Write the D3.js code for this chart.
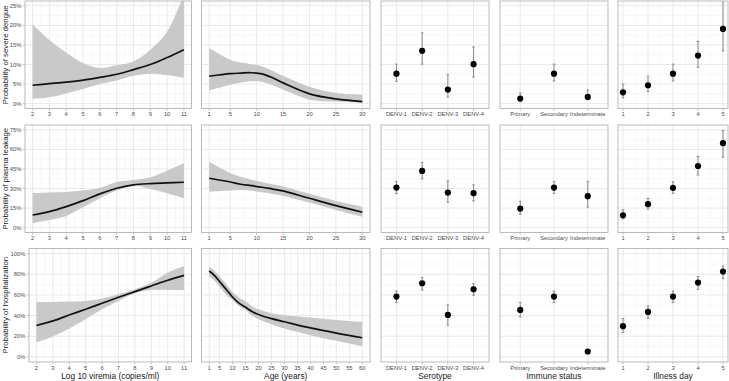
<!DOCTYPE html>
<html>
<head>
<meta charset="utf-8">
<script src="https://cdn.jsdelivr.net/npm/d3@7"></script>
<style>
  html, body { margin: 0; padding: 0; background: #fff; }
  svg { display: block; font-family: "Liberation Sans", Arial, sans-serif; }
</style>
</head>
<body>
<div id="chart"></div>
<script>
//! ===== 0. Data ===========================
const viremiaX = [2, 3, 4, 5, 6, 7, 8, 9, 10, 11];
const ageX = [1, 5, 7, 9, 11, 13, 15, 20, 25, 30];
const ageX60 = [1, 3, 5, 8, 10, 12.5, 15, 17.5, 20, 25, 30, 40, 50, 60];

const serotypes = ["DENV-1", "DENV-2", "DENV-3", "DENV-4"];
const immuneStatus = ["Primary", "Secondary", "Indeterminate"];
const illnessDays = [1, 2, 3, 4, 5];

// severe dengue
const severeViremiaFit = [0.047, 0.051, 0.055, 0.060, 0.067, 0.075, 0.087, 0.100, 0.118, 0.138];
const severeViremiaLo  = [0.012, 0.016, 0.026, 0.0375, 0.050, 0.059, 0.071, 0.0765, 0.073, 0.0655];
const severeViremiaHi  = [0.203, 0.163, 0.131, 0.104, 0.091, 0.098, 0.108, 0.138, 0.184, 0.280];
const severeAgeFit = [0.070, 0.0765, 0.078, 0.079, 0.076, 0.066, 0.053, 0.025, 0.012, 0.005];
const severeAgeLo  = [0.034, 0.0485, 0.054, 0.058, 0.056, 0.047, 0.036, 0.010, 0.005, 0.0025];
const severeAgeHi  = [0.142, 0.112, 0.105, 0.101, 0.095, 0.084, 0.071, 0.043, 0.027, 0.023];
const severeSero   = [0.0765, 0.135, 0.036, 0.101];
const severeSeroLo = [0.057, 0.101, 0.017, 0.068];
const severeSeroHi = [0.101, 0.181, 0.074, 0.145];
const severeImm    = [0.013, 0.0765, 0.017];
const severeImmLo  = [0.006, 0.058, 0.010];
const severeImmHi  = [0.027, 0.101, 0.035];
const severeDay    = [0.029, 0.047, 0.0765, 0.123, 0.191];
const severeDayLo  = [0.015, 0.031, 0.058, 0.093, 0.135];
const severeDayHi  = [0.050, 0.070, 0.101, 0.159, 0.300];

// plasma leakage
const leakViremiaFit = [0.097, 0.123, 0.161, 0.207, 0.259, 0.302, 0.328, 0.338, 0.343, 0.348];
const leakViremiaLo  = [0.034, 0.059, 0.090, 0.156, 0.225, 0.284, 0.320, 0.297, 0.264, 0.226];
const leakViremiaHi  = [0.264, 0.269, 0.274, 0.284, 0.305, 0.351, 0.366, 0.387, 0.437, 0.494];
const leakAgeFit = [0.379, 0.350, 0.333, 0.322, 0.310, 0.296, 0.282, 0.225, 0.169, 0.118];
const leakAgeLo  = [0.276, 0.285, 0.289, 0.282, 0.272, 0.258, 0.243, 0.192, 0.136, 0.084];
const leakAgeHi  = [0.506, 0.420, 0.391, 0.368, 0.350, 0.332, 0.315, 0.259, 0.205, 0.161];
const leakSero   = [0.307, 0.435, 0.269, 0.264];
const leakSeroLo = [0.261, 0.374, 0.195, 0.205];
const leakSeroHi = [0.353, 0.499, 0.358, 0.328];
const leakImm    = [0.146, 0.307, 0.241];
const leakImmLo  = [0.103, 0.264, 0.157];
const leakImmHi  = [0.203, 0.353, 0.353];
const leakDay    = [0.095, 0.180, 0.305, 0.473, 0.648];
const leakDayLo  = [0.067, 0.141, 0.264, 0.404, 0.540];
const leakDayHi  = [0.136, 0.223, 0.351, 0.545, 0.744];

// hospitalization
const hospViremiaFit = [0.304, 0.348, 0.406, 0.461, 0.519, 0.577, 0.632, 0.687, 0.742, 0.790];
const hospViremiaLo  = [0.139, 0.197, 0.275, 0.365, 0.461, 0.542, 0.616, 0.648, 0.648, 0.648];
const hospViremiaHi  = [0.532, 0.532, 0.536, 0.542, 0.565, 0.606, 0.655, 0.719, 0.816, 0.880];
const hospAgeFit = [0.832, 0.790, 0.730, 0.640, 0.580, 0.520, 0.480, 0.440, 0.410, 0.370, 0.340, 0.280, 0.230, 0.185];
const hospAgeLo  = [0.778, 0.740, 0.680, 0.590, 0.550, 0.490, 0.455, 0.400, 0.365, 0.316, 0.275, 0.210, 0.155, 0.101];
const hospAgeHi  = [0.874, 0.835, 0.780, 0.690, 0.630, 0.575, 0.540, 0.490, 0.461, 0.423, 0.406, 0.381, 0.358, 0.339];
const hospSero   = [0.584, 0.713, 0.406, 0.655];
const hospSeroLo = [0.526, 0.648, 0.309, 0.597];
const hospSeroHi = [0.638, 0.768, 0.503, 0.710];
const hospImm    = [0.455, 0.584, 0.052];
const hospImmLo  = [0.387, 0.526, 0.050];
const hospImmHi  = [0.526, 0.638, 0.054];
const hospDay    = [0.297, 0.435, 0.584, 0.720, 0.826];
const hospDayLo  = [0.236, 0.374, 0.526, 0.655, 0.758];
const hospDayHi  = [0.371, 0.493, 0.638, 0.778, 0.880];

// axis ticks
const viremiaTicks = [2, 3, 4, 5, 6, 7, 8, 9, 10, 11];
const ageTicks30 = [1, 5, 10, 15, 20, 25, 30];
const ageTicks60 = [1, 5, 10, 15, 20, 25, 30, 35, 40, 45, 50, 55, 60];
const severeTicks = [0, 0.05, 0.10, 0.15, 0.20, 0.25];
const leakTicks = [0, 0.15, 0.30, 0.45, 0.60, 0.75];
const hospTicks = [0, 0.2, 0.4, 0.6, 0.8, 1.0];

const yTitles = ["Probability of severe dengue", "Probability of plasma leakage", "Probability of hospitalization"];
const xTitles = ["Log 10 viremia (copies/ml)", "Age (years)", "Serotype", "Immune status", "Illness day"];

//! ===== I. Layout =====
const W = 729, H = 381;
const rowTop = [1, 125, 248.5];
const rowBottom = [108.5, 232.5, 362];
const colLeft = [[25, 201.5, 381, 500, 618], [25, 201.5, 381, 500, 618], [29, 201.5, 381, 500, 618]];
const colRight = [191.5, 370, 489, 608, 728];

const gridMajor = "#e3e3e3", gridMinor = "#efefef", borderCol = "#b3b3b3", tickTxt = "#4d4d4d";
const tickSize = 5.8, titleSize = 8.4, yTitleSize = 7.8;
const pct = d3.format(".0%");
const smooth = d3.curveCatmullRom.alpha(0.5);

function expand(a, b){ const e = (b - a) * 0.05; return [a - e, b + e]; }
function mids(t){ const m = []; for (let i = 0; i < t.length - 1; i++) m.push((t[i] + t[i+1]) / 2); return m; }

const rows = [
  { yMax: 0.25, yTicks: severeTicks,
    curves: [ {x: viremiaX, fit: severeViremiaFit, lo: severeViremiaLo, hi: severeViremiaHi, ticks: viremiaTicks},
              {x: ageX, fit: severeAgeFit, lo: severeAgeLo, hi: severeAgeHi, ticks: ageTicks30} ],
    dots: [ {cats: serotypes, v: severeSero, lo: severeSeroLo, hi: severeSeroHi},
            {cats: immuneStatus, v: severeImm, lo: severeImmLo, hi: severeImmHi},
            {cats: illnessDays, v: severeDay, lo: severeDayLo, hi: severeDayHi, numeric: true} ] },
  { yMax: 0.75, yTicks: leakTicks,
    curves: [ {x: viremiaX, fit: leakViremiaFit, lo: leakViremiaLo, hi: leakViremiaHi, ticks: viremiaTicks},
              {x: ageX, fit: leakAgeFit, lo: leakAgeLo, hi: leakAgeHi, ticks: ageTicks30} ],
    dots: [ {cats: serotypes, v: leakSero, lo: leakSeroLo, hi: leakSeroHi},
            {cats: immuneStatus, v: leakImm, lo: leakImmLo, hi: leakImmHi},
            {cats: illnessDays, v: leakDay, lo: leakDayLo, hi: leakDayHi, numeric: true} ] },
  { yMax: 1.0, yTicks: hospTicks,
    curves: [ {x: viremiaX, fit: hospViremiaFit, lo: hospViremiaLo, hi: hospViremiaHi, ticks: viremiaTicks},
              {x: ageX60, fit: hospAgeFit, lo: hospAgeLo, hi: hospAgeHi, ticks: ageTicks60} ],
    dots: [ {cats: serotypes, v: hospSero, lo: hospSeroLo, hi: hospSeroHi},
            {cats: immuneStatus, v: hospImm, lo: hospImmLo, hi: hospImmHi},
            {cats: illnessDays, v: hospDay, lo: hospDayLo, hi: hospDayHi, numeric: true} ] }
];

const svg = d3.select("#chart").append("svg").attr("width", W).attr("height", H);
const defs = svg.append("defs");

//! ===== II. Panels =====
rows.forEach((row, r) => {
  const y = d3.scaleLinear().domain(expand(0, row.yMax)).range([rowBottom[r], rowTop[r]]);
  const yMinor = mids(row.yTicks);

  for (let c = 0; c < 5; c++){
    const x0 = colLeft[r][c], x1 = colRight[c];
    const g = svg.append("g");
    const clipId = `clip-${r}-${c}`;
    defs.append("clipPath").attr("id", clipId).append("rect")
      .attr("x", x0).attr("y", rowTop[r]).attr("width", x1 - x0).attr("height", rowBottom[r] - rowTop[r]);

    // x scale + ticks for this panel
    let x, xTicks, xMinor = [];
    if (c < 2){
      const cv = row.curves[c];
      x = d3.scaleLinear().domain(expand(cv.ticks[0], cv.ticks[cv.ticks.length - 1])).range([x0, x1]);
      xTicks = cv.ticks; xMinor = mids(cv.ticks);
    } else {
      const dt = row.dots[c - 2];
      if (dt.numeric){
        x = d3.scaleLinear().domain(expand(1, 5)).range([x0, x1]);
        xMinor = mids(dt.cats);
      } else {
        x = d3.scalePoint().domain(dt.cats).range([x0, x1]).padding(0.6);
      }
      xTicks = dt.cats;
    }

    // grid
    g.selectAll(".ymin").data(yMinor).enter().append("line")
      .attr("x1", x0).attr("x2", x1).attr("y1", d => y(d)).attr("y2", d => y(d))
      .attr("stroke", gridMinor).attr("stroke-width", 0.5);
    g.selectAll(".xmin").data(xMinor).enter().append("line")
      .attr("y1", rowTop[r]).attr("y2", rowBottom[r]).attr("x1", d => x(d)).attr("x2", d => x(d))
      .attr("stroke", gridMinor).attr("stroke-width", 0.5);
    g.selectAll(".ymaj").data(row.yTicks).enter().append("line")
      .attr("x1", x0).attr("x2", x1).attr("y1", d => y(d)).attr("y2", d => y(d))
      .attr("stroke", gridMajor).attr("stroke-width", 0.8);
    g.selectAll(".xmaj").data(xTicks).enter().append("line")
      .attr("y1", rowTop[r]).attr("y2", rowBottom[r]).attr("x1", d => x(d)).attr("x2", d => x(d))
      .attr("stroke", gridMajor).attr("stroke-width", 0.8);

    const marks = g.append("g").attr("clip-path", `url(#${clipId})`);

    if (c < 2){
      const cv = row.curves[c];
      const pts = cv.x.map((xv, i) => ({x: xv, fit: cv.fit[i], lo: cv.lo[i], hi: cv.hi[i]}));
      marks.append("path").datum(pts)
        .attr("fill", "#c9c9c9")
        .attr("d", d3.area().curve(smooth).x(d => x(d.x)).y0(d => y(d.lo)).y1(d => y(d.hi)));
      marks.append("path").datum(pts)
        .attr("fill", "none").attr("stroke", "#111").attr("stroke-width", 1.7)
        .attr("d", d3.line().curve(smooth).x(d => x(d.x)).y(d => y(d.fit)));
    } else {
      const dt = row.dots[c - 2];
      const pts = dt.cats.map((k, i) => ({k: k, v: dt.v[i], lo: dt.lo[i], hi: dt.hi[i]}));
      const cap = 1.3;
      marks.selectAll(".eb").data(pts).enter().append("line")
        .attr("x1", d => x(d.k)).attr("x2", d => x(d.k)).attr("y1", d => y(d.lo)).attr("y2", d => y(d.hi))
        .attr("stroke", "#8a8a8a").attr("stroke-width", 1);
      ["lo", "hi"].forEach(key => {
        marks.selectAll(".cap-" + key).data(pts).enter().append("line")
          .attr("x1", d => x(d.k) - cap).attr("x2", d => x(d.k) + cap)
          .attr("y1", d => y(d[key])).attr("y2", d => y(d[key]))
          .attr("stroke", "#8a8a8a").attr("stroke-width", 1);
      });
      marks.selectAll("circle").data(pts).enter().append("circle")
        .attr("cx", d => x(d.k)).attr("cy", d => y(d.v)).attr("r", 3.1).attr("fill", "#000");
    }

    // border
    g.append("rect").attr("x", x0).attr("y", rowTop[r]).attr("width", x1 - x0).attr("height", rowBottom[r] - rowTop[r])
      .attr("fill", "none").attr("stroke", borderCol).attr("stroke-width", 0.9);

    // x ticks + labels
    g.selectAll(".xt").data(xTicks).enter().append("line")
      .attr("x1", d => x(d)).attr("x2", d => x(d)).attr("y1", rowBottom[r]).attr("y2", rowBottom[r] + 2.5)
      .attr("stroke", borderCol).attr("stroke-width", 0.7);
    g.selectAll(".xl").data(xTicks).enter().append("text")
      .attr("x", d => x(d)).attr("y", rowBottom[r] + 5.5).attr("dy", "0.35em")
      .attr("text-anchor", "middle").attr("font-size", tickSize).attr("fill", tickTxt)
      .text(d => d);

    // y ticks + labels only in first column
    if (c === 0){
      g.selectAll(".yt").data(row.yTicks).enter().append("line")
        .attr("x1", x0 - 2.5).attr("x2", x0).attr("y1", d => y(d)).attr("y2", d => y(d))
        .attr("stroke", borderCol).attr("stroke-width", 0.7);
      g.selectAll(".yl").data(row.yTicks).enter().append("text")
        .attr("x", x0 - 3.6).attr("y", d => y(d)).attr("dy", "0.35em")
        .attr("text-anchor", "end").attr("font-size", tickSize).attr("fill", tickTxt)
        .text(d => pct(d));
      const cy = (rowTop[r] + rowBottom[r]) / 2;
      svg.append("text")
        .attr("transform", `translate(5,${cy}) rotate(-90)`).attr("dy", "0.35em")
        .attr("text-anchor", "middle").attr("font-size", yTitleSize).attr("fill", "#1a1a1a")
        .text(yTitles[r]);
    }

    // x titles under last row
    if (r === 2){
      svg.append("text")
        .attr("x", (x0 + x1) / 2).attr("y", 376).attr("dy", "0.35em")
        .attr("text-anchor", "middle").attr("font-size", titleSize).attr("fill", "#1a1a1a")
        .text(xTitles[c]);
    }
  }
});
</script>
</body>
</html>
